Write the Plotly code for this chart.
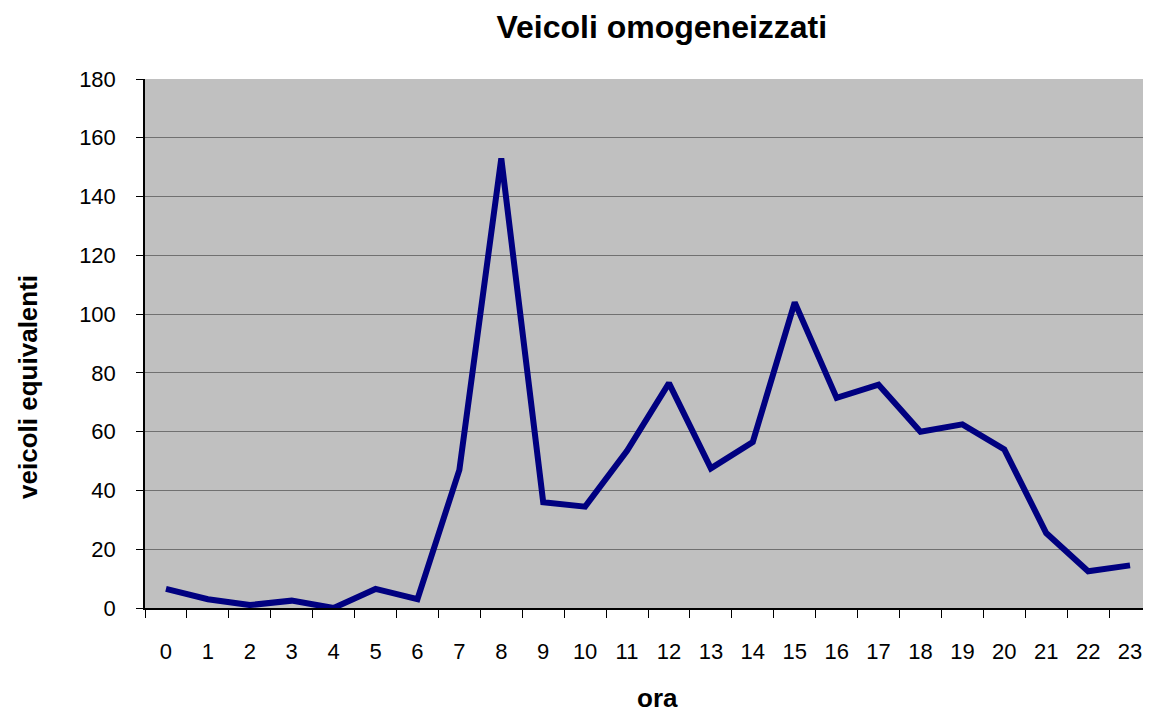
import plotly.graph_objects as go

hours = [str(h) for h in range(24)]
values = [6.5, 3, 1, 2.5, 0, 6.5, 3, 47, 153, 36, 34.5, 53.5, 76.5, 47.5, 56.5, 104,
          71.5, 76, 60, 62.5, 54, 25.5, 12.5, 14.5]

fig = go.Figure()
fig.add_trace(go.Scatter(x=hours, y=values, mode="lines",
                         line=dict(color="#000080", width=6), showlegend=False))

font = "Liberation Sans, Arial, sans-serif"
fig.update_layout(
    width=1143, height=705,
    margin=dict(l=137, r=0, t=71, b=105),
    paper_bgcolor="white", plot_bgcolor="#C0C0C0",
    font=dict(family=font, size=22, color="black"),
    title=dict(text="<b>Veicoli omogeneizzati</b>", x=0.572, xanchor="center",
               y=0.973, yanchor="middle", font=dict(size=32, family=font)),
    xaxis=dict(type="category", tickson="boundaries", ticks="outside", ticklen=8,
               tickcolor="black", showline=True, linecolor="black", linewidth=1.5,
               showgrid=False, range=[-0.5, 23.5], zeroline=False, automargin=False,
               ticklabelstandoff=23),
    yaxis=dict(range=[0, 180], dtick=20, ticks="outside", ticklen=7, tickcolor="black",
               showline=True, linecolor="black", linewidth=1.5, automargin=False,
               showgrid=True, gridcolor="#707070", gridwidth=1, zeroline=False,
               ticklabelstandoff=16),
    annotations=[
        dict(text="<b>ora</b>", xref="paper", yref="paper", x=0.509, y=-0.170,
             xanchor="center", yanchor="middle", showarrow=False,
             font=dict(size=26, family=font, color="black")),
        dict(text="<b>veicoli equivalenti</b>", xref="paper", yref="paper",
             x=-0.1163, y=0.418, xanchor="center", yanchor="middle", textangle=-90,
             showarrow=False, font=dict(size=26, family=font, color="black")),
    ],
)
fig.write_html("out.html")
